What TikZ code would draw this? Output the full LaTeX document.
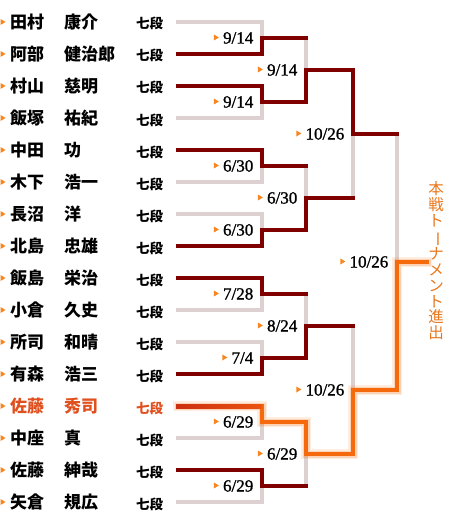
\documentclass[tikz,border=0pt]{standalone}
\usepackage{fontspec}
\setmainfont{Liberation Serif}
\newfontfamily\jpfont{Noto Sans CJK JP}
\newfontfamily\datefont{Liberation Serif}[FakeBold=1.2]
\definecolor{winred}{HTML}{800000}
\definecolor{losegray}{HTML}{DDD0D0}
\definecolor{advorange}{HTML}{F56A0C}
\definecolor{markorange}{HTML}{F7861E}
\definecolor{namered}{HTML}{E0501E}
\definecolor{advtext}{HTML}{E8781E}
\tikzset{
  lose/.style={draw=losegray, line width=4pt, line cap=rect},
  win/.style={draw=winred, line width=4pt, line cap=rect},
  adv/.style={draw=advorange, line width=4pt, line cap=rect},
  sname/.style={anchor=base west, inner sep=0pt, font=\jpfont\bfseries\fontsize{17}{17}\selectfont},
  rank/.style={anchor=base west, inner sep=0pt, font=\jpfont\bfseries\fontsize{13.5}{13.5}\selectfont},
  date/.style={anchor=base east, inner sep=0pt, font=\datefont\fontsize{17}{17}\selectfont},
  vtext/.style={inner sep=0pt, align=center, text=advtext, font=\jpfont\fontsize{15.5}{15.8}\selectfont}
}
\begin{document}
\begin{tikzpicture}[x=1pt, y=-1pt]
  \useasboundingbox (0,0) rectangle (460,524);

  % players
  \foreach \i/\sn/\gn/\col in {1/田村/康介/black, 2/阿部/健治郎/black, 3/村山/慈明/black,
      4/飯塚/祐紀/black, 5/中田/功/black, 6/木下/浩一/black, 7/長沼/洋/black,
      8/北島/忠雄/black, 9/飯島/栄治/black, 10/小倉/久史/black, 11/所司/和晴/black,
      12/有森/浩三/black, 13/佐藤/秀司/namered, 14/中座/真/black, 15/佐藤/紳哉/black,
      16/矢倉/規広/black}{
    \pgfmathsetmacro\ry{22+32*(\i-1)}
    \fill[markorange] (0.5,\ry-3) -- (0.5,\ry+3) -- (5.5,\ry) -- cycle;
    \node[sname, text=\col] (sn\i) at (10,\ry+6.5) {\sn};
    \node[sname, text=\col] (gn\i) at (64,\ry+6.5) {\gn};
    \node[rank, text=\col] (rk\i) at (136,\ry+7) {七段};
    \coordinate (p\i) at (178,\ry);
  }

  % junctions
  \foreach \k in {1,...,8} \coordinate (a\k) at (262,38+64*\k-64);
  \foreach \k in {1,...,4} \coordinate (b\k) at (306,70+128*\k-128);
  \coordinate (c1) at (353,134);
  \coordinate (c2) at (353,390);
  \coordinate (f) at (397,262);
  \coordinate (out) at (427,262);

  % whole bracket in gray first
  \foreach \i in {1,...,16}{
    \pgfmathtruncatemacro\k{(\i+1)/2}
    \draw[lose] (p\i) -| (a\k);
  }
  \foreach \k in {1,...,8}{
    \pgfmathtruncatemacro\j{(\k+1)/2}
    \draw[lose] (a\k) -| (b\j);
  }
  \draw[lose] (b1) -| (c1);
  \draw[lose] (b2) -| (c1);
  \draw[lose] (b3) -| (c2);
  \draw[lose] (b4) -| (c2);
  \draw[lose] (c1) -| (f);

  % winners
  \draw[win] (p2) -| (a1) -- (a1 -| b1);
  \draw[win] (p3) -| (a2) -| (b1) -| (c1) -- (c1 -| f);
  \draw[win] (p5) -| (a3) -- (a3 -| b2);
  \draw[win] (p8) -| (a4) -| (b2) -- (b2 -| c1);
  \draw[win] (p9) -| (a5) -- (a5 -| b3);
  \draw[win] (p12) -| (a6) -| (b3) -- (b3 -| c2);
  \draw[win] (p15) -| (a8) -- (a8 -| b4);

  % qualifier, with a soft glow
  \draw[adv, line width=10pt, opacity=0.12] (p13) -| (a7) -| (b4) -| (c2) -| (f) -- (out);
  \draw[adv, line width=7pt, opacity=0.2] (p13) -| (a7) -| (b4) -| (c2) -| (f) -- (out);
  \draw[adv] (p13) -| (a7) -| (b4) -| (c2) -| (f) -- (out);
  \shade[left color={rgb,255:red,204;green,48;blue,16}, right color={rgb,255:red,236;green,84;blue,16}] (176,404) rectangle (262,408);

  % dates
  \node[date] (d1) at ([xshift=-8.5pt,yshift=-5.5pt]a1) {9/14};
  \node[date] (d2) at ([xshift=-8.5pt,yshift=-5.5pt]a2) {9/14};
  \node[date] (d3) at ([xshift=-8.5pt,yshift=-5.5pt]a3) {6/30};
  \node[date] (d4) at ([xshift=-8.5pt,yshift=-5.5pt]a4) {6/30};
  \node[date] (d5) at ([xshift=-8.5pt,yshift=-5.5pt]a5) {7/28};
  \node[date] (d6) at ([xshift=-8.5pt,yshift=-5.5pt]a6) {7/4};
  \node[date] (d7) at ([xshift=-8.5pt,yshift=-5.5pt]a7) {6/29};
  \node[date] (d8) at ([xshift=-8.5pt,yshift=-5.5pt]a8) {6/29};
  \node[date] (d9) at ([xshift=-8.5pt,yshift=-5.5pt]b1) {9/14};
  \node[date] (d10) at ([xshift=-8.5pt,yshift=-5.5pt]b2) {6/30};
  \node[date] (d11) at ([xshift=-8.5pt,yshift=-5.5pt]b3) {8/24};
  \node[date] (d12) at ([xshift=-8.5pt,yshift=-5.5pt]b4) {6/29};
  \node[date] (d13) at ([xshift=-8.5pt,yshift=-5.5pt]c1) {10/26};
  \node[date] (d14) at ([xshift=-8.5pt,yshift=-5.5pt]c2) {10/26};
  \node[date] (d15) at ([xshift=-8.5pt,yshift=-5.5pt]f) {10/26};
  \foreach \n in {1,...,15}
    \fill[markorange, shift={(d\n.base west)}] (-9,-9) -- (-9,-3) -- (-4,-6) -- cycle;

  % vertical caption
  \node[vtext] (hon) at (436,261) {本\\戦\\ト\\\rotatebox[origin=c]{-90}{ー}\\ナ\\メ\\ン\\ト\\進\\出};
\end{tikzpicture}
\end{document}
